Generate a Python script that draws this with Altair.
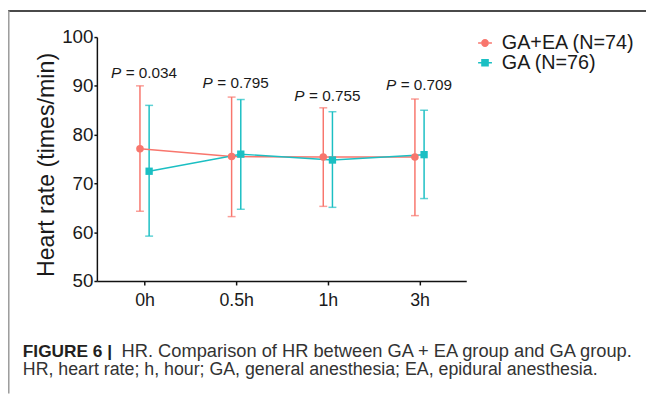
import json
import altair as alt
import pandas as pd

# ---------------- data ----------------
times = ["0h", "0.5h", "1h", "3h"]
groups = ["GA+EA (N=74)", "GA (N=76)"]
colors = ["#F8766D", "#1BBFC3"]

gaea_mean = [77.1, 75.5, 75.4, 75.4]
gaea_lo = [64.3, 63.2, 65.3, 63.4]
gaea_hi = [90.0, 87.7, 85.5, 87.3]

ga_mean = [72.5, 76.0, 74.8, 75.9]
ga_lo = [59.2, 64.7, 65.1, 66.9]
ga_hi = [86.0, 87.2, 84.7, 85.0]

p_values = ["0.034", "0.795", "0.755", "0.709"]
p_label_y = [92.6, 90.6, 87.9, 90.1]

y_title = "Heart rate (times/min)"
caption_bold = "FIGURE 6 |"
caption_line1 = "HR. Comparison of HR between GA + EA group and GA group."
caption_line2 = "HR, heart rate; h, hour; GA, general anesthesia; EA, epidural anesthesia."

# ---------------- tables ----------------
rows = []
for g, means, los, his in [(groups[0], gaea_mean, gaea_lo, gaea_hi),
                           (groups[1], ga_mean, ga_lo, ga_hi)]:
    for i, t in enumerate(times):
        rows.append({"group": g, "time": t, "idx": i,
                     "mean": means[i], "lo": los[i], "hi": his[i]})
df = pd.DataFrame(rows)

pdf = pd.DataFrame({"idx": list(range(len(times))),
                    "py": p_label_y,
                    "lab": ["= " + v for v in p_values]})

FONT = "Liberation Sans"
W, H = 374, 247

xscale = alt.Scale(domain=[-0.52, 3.51], nice=False, zero=False)
yscale = alt.Scale(domain=[50, 100], nice=False, zero=False)
cscale = alt.Scale(domain=groups, range=colors)

x_axis = alt.Axis(values=[0, 1, 2, 3],
                  labelExpr=json.dumps(times) + "[datum.value]",
                  title=None, grid=False, domainColor="#111", domainWidth=1.5,
                  tickColor="#111", tickWidth=1.5, tickSize=4,
                  labelFontSize=18, labelFont=FONT, labelColor="#1a1a1a",
                  labelPadding=7)
y_axis = alt.Axis(values=[50, 60, 70, 80, 90, 100], title=y_title,
                  grid=False, domainColor="#111", domainWidth=1.5,
                  tickColor="#111", tickWidth=1.5, tickSize=3,
                  labelFontSize=19, labelFont=FONT, labelColor="#1a1a1a",
                  labelPadding=1,
                  titleFont=FONT, titleFontSize=23.5, titleFontWeight="normal",
                  titleColor="#1a1a1a", titleAngle=-90, titleX=-51, titleY=129,
                  titleAlign="center", titleBaseline="middle")

dodge = f"datum.idx + (datum.group === '{groups[1]}' ? 0.05 : -0.05)"
base = alt.Chart(df).transform_calculate(xpos=dodge)

X = alt.X("xpos:Q", scale=xscale, axis=x_axis)
C = alt.Color("group:N", scale=cscale, legend=None)


def Y(field):
    return alt.Y(field, type="quantitative", scale=yscale, axis=y_axis)


bars = base.mark_rule(strokeWidth=1.5).encode(x=X, y=Y("lo"), y2="hi", color=C)
cap_lo = base.mark_tick(orient="horizontal", size=8, thickness=1.5).encode(x=X, y=Y("lo"), color=C)
cap_hi = base.mark_tick(orient="horizontal", size=8, thickness=1.5).encode(x=X, y=Y("hi"), color=C)
lines = base.mark_line(strokeWidth=1.5).encode(x=X, y=Y("mean"), color=C, detail="group:N")
circles = base.transform_filter(alt.datum.group == groups[0]).mark_point(
    filled=True, opacity=1, shape="circle", size=58).encode(x=X, y=Y("mean"), color=C)
squares = base.transform_filter(alt.datum.group == groups[1]).mark_point(
    filled=True, opacity=1, shape="square", size=55).encode(x=X, y=Y("mean"), color=C)

# legend: custom symbols (short line + marker), from fill + shape of an invisible layer
circ_path = ("M-1,-0.11H-0.57V0.11H-1Z M0.57,-0.11H1V0.11H0.57Z "
             "M-0.57,0A0.57,0.57,0,1,0,0.57,0A0.57,0.57,0,1,0,-0.57,0Z")
sq_path = ("M-1,-0.11H-0.55V0.11H-1Z M0.55,-0.11H1V0.11H0.55Z "
           "M-0.55,-0.55H0.55V0.55H-0.55Z")
leg = alt.Legend(title=None, orient="none", legendX=383, legendY=-4,
                 symbolSize=196, symbolStrokeWidth=0, labelFontSize=20,
                 labelFont=FONT, labelColor="#1a1a1a", labelOffset=7,
                 rowPadding=0, padding=0, symbolOpacity=1)
legend_layer = base.mark_point(filled=True, opacity=0).encode(
    x=X, y=Y("mean"),
    fill=alt.Fill("group:N", scale=cscale, legend=leg),
    shape=alt.Shape("group:N", scale=alt.Scale(domain=groups, range=[circ_path, sq_path]), legend=leg),
)

# P-value labels
ptxt = alt.Chart(pdf).mark_text(align="right", baseline="middle", dx=33,
                                fontSize=15.5, font=FONT, color="#1a1a1a").encode(
    x=alt.X("idx:Q", scale=xscale, axis=x_axis), y=Y("py"), text="lab:N")
pital = alt.Chart(pdf).mark_text(align="left", baseline="middle", dx=-34,
                                 fontSize=15.5, font=FONT, fontStyle="italic",
                                 color="#1a1a1a").encode(
    x=alt.X("idx:Q", scale=xscale, axis=x_axis), y=Y("py"), text=alt.value("P"))

# caption and frame (page decoration)
one = pd.DataFrame({"a": [0]})
cap_b = alt.Chart(one).mark_text(align="left", baseline="alphabetic", fontSize=17.5,
                                 font=FONT, fontWeight="bold", color="#231f20").encode(
    x=alt.value(-75), y=alt.value(323.5), text=alt.value(caption_bold))
cap_1 = alt.Chart(one).mark_text(align="left", baseline="alphabetic", fontSize=18.5,
                                 font=FONT, color="#333333").encode(
    x=alt.value(25), y=alt.value(323.5), text=alt.value(caption_line1))
cap_2 = alt.Chart(one).mark_text(align="left", baseline="alphabetic", fontSize=18,
                                 font=FONT, color="#333333").encode(
    x=alt.value(-75), y=alt.value(341.8), text=alt.value(caption_line2))
top_border = alt.Chart(one).mark_rule(color="#4a4a4a", strokeWidth=2).encode(
    x=alt.value(-90), x2=alt.value(556), y=alt.value(-26.5))
left_border = alt.Chart(one).mark_rule(color="#9a9a9a", strokeWidth=1.5).encode(
    x=alt.value(-89.2), y=alt.value(-27), y2=alt.value(361))

chart = alt.layer(
    legend_layer, bars, cap_lo, cap_hi, lines, circles, squares, ptxt, pital,
    cap_b, cap_1, cap_2, top_border, left_border
).properties(
    width=W, height=H,
    autosize=alt.AutoSizeParams(type="none"),
    padding={"left": 90, "top": 27, "right": 182, "bottom": 114},
    background="white",
).configure_view(stroke=None)

chart.save("out.html", embed_options={"renderer": "svg", "actions": False})
